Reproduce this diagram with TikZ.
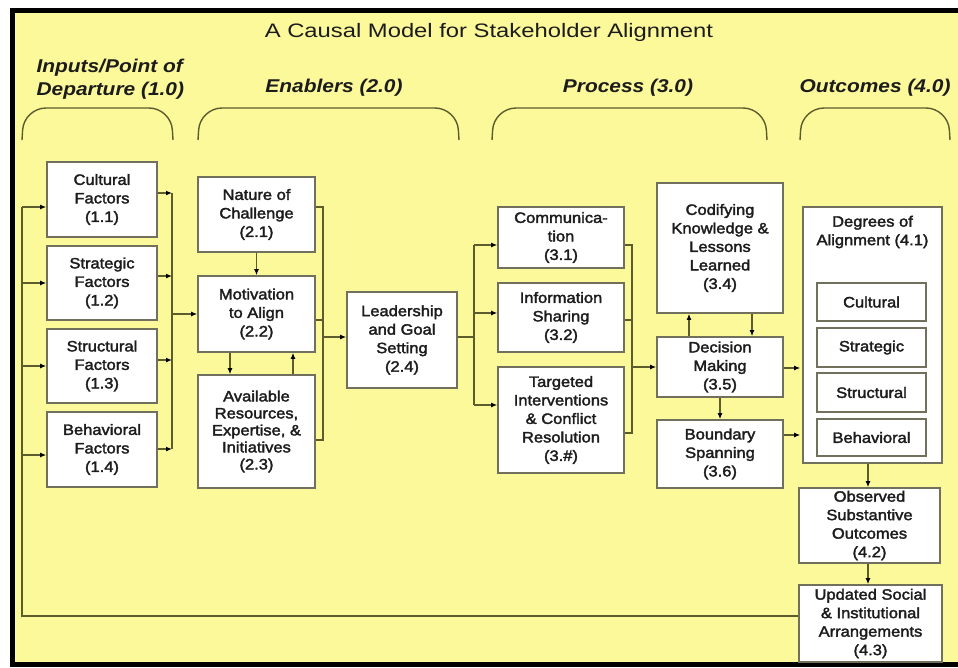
\documentclass[tikz,border=0pt]{standalone}
\usepackage{fontspec}
\setmainfont{Liberation Sans}
\newfontfamily\boxfont{Liberation Sans}[FakeBold=2.2, FakeStretch=1.1]
\newfontfamily\titlefont{Liberation Sans}[FakeStretch=1.22]
\newfontfamily\headfont{Liberation Sans}[FakeStretch=1.13]
\usetikzlibrary{arrows.meta,calc}
\definecolor{bgyellow}{RGB}{252,249,155}
\definecolor{boxline}{RGB}{112,112,92}
\definecolor{connc}{RGB}{92,92,45}
\definecolor{txt}{RGB}{28,28,28}
\newcommand\boxtext{\boxfont\fontsize{15}{18.5}\selectfont}
\tikzset{
  box/.style={draw=boxline, line width=1.6pt, fill=white, align=center, font=\boxtext, text=txt, inner sep=0pt},
  conn/.style={draw=connc, line width=1.3pt},
  arr/.style={conn, -{Latex[length=6pt,width=5pt,color=black]}},
  bracepath/.style={draw=connc, line width=1.4pt, rounded corners=22pt},
  header/.style={font=\headfont\fontsize{18.5}{23}\selectfont\bfseries\itshape, text=txt, align=left},
}
\begin{document}
\begin{tikzpicture}[x=1pt,y=-1pt]
\useasboundingbox (0,0) rectangle (958,667);
\clip (0,0) rectangle (958,667);
\fill[white] (0,0) rectangle (958,667);
\draw[line width=5pt, fill=bgyellow] (12,10.5) rectangle (980,664);

% title and headers
\node[font=\titlefont\fontsize{19.5}{22}\selectfont, text=txt] (title) at (489,32) {A Causal Model for Stakeholder Alignment};
\node[header, anchor=west] (h1) at (33,79.5) {Inputs/Point of\\Departure (1.0)};
\node[header] (h2) at (334,88) {Enablers (2.0)};
\node[header] (h3) at (628,88) {Process (3.0)};
\node[header] (h4) at (875,88) {Outcomes (4.0)};

% braces
\draw[bracepath] (22,140) -- (24,108) -- (171,108) -- (173,140);
\draw[bracepath] (198,140) -- (200,108) -- (457,108) -- (459,140);
\draw[bracepath] (492,140) -- (494,108) -- (765,108) -- (767,140);
\draw[bracepath] (800,140) -- (802,108) -- (948,108) -- (950,140);

% column 1
\node[box, minimum width=110pt, minimum height=75pt] (b11) at (102,199.5) {Cultural\\Factors\\(1.1)};
\node[box, minimum width=110pt, minimum height=74pt] (b12) at (102,283) {Strategic\\Factors\\(1.2)};
\node[box, minimum width=110pt, minimum height=74pt] (b13) at (102,366) {Structural\\Factors\\(1.3)};
\node[box, minimum width=110pt, minimum height=75pt] (b14) at (102,449.5) {Behavioral\\Factors\\(1.4)};

% column 2
\node[box, minimum width=117pt, minimum height=75pt] (b21) at (256.5,214.5) {Nature of\\Challenge\\(2.1)};
\node[box, minimum width=117pt, minimum height=76pt] (b22) at (256.5,314) {Motivation\\to Align\\(2.2)};
\node[box, minimum width=117pt, minimum height=113pt, font=\boxfont\fontsize{15}{17}\selectfont] (b23) at (256.5,431.5) {Available\\Resources,\\Expertise, \&\\Initiatives\\(2.3)};
\node[box, minimum width=110pt, minimum height=96pt] (b24) at (402,340) {Leadership\\and Goal\\Setting\\(2.4)};

% column 3
\node[box, minimum width=126pt, minimum height=61pt] (b31) at (561,237.5) {Communica-\\tion\\(3.1)};
\node[box, minimum width=126pt, minimum height=69pt] (b32) at (561,317.5) {Information\\Sharing\\(3.2)};
\node[box, minimum width=126pt, minimum height=106pt] (b33) at (561,420) {Targeted\\Interventions\\\& Conflict\\Resolution\\(3.\#)};
\node[box, minimum width=126pt, minimum height=130pt] (b34) at (720,248) {Codifying\\Knowledge \&\\Lessons\\Learned\\(3.4)};
\node[box, minimum width=126pt, minimum height=60pt] (b35) at (720,367) {Decision\\Making\\(3.5)};
\node[box, minimum width=126pt, minimum height=68pt] (b36) at (720,454) {Boundary\\Spanning\\(3.6)};

% column 4
\node[box, minimum width=139pt, minimum height=256pt] (b41) at (872.5,335) {};
\node[align=center, font=\boxtext, text=txt] (b41t) at (872.5,232) {Degrees of\\Alignment (4.1)};
\node[box, minimum width=109pt, minimum height=38pt] (i1) at (871.5,302) {Cultural};
\node[box, minimum width=109pt, minimum height=39pt] (i2) at (871.5,347.5) {Strategic};
\node[box, minimum width=109pt, minimum height=39pt] (i3) at (871.5,392.5) {Structural};
\node[box, minimum width=109pt, minimum height=37pt] (i4) at (871.5,437.5) {Behavioral};
\node[box, minimum width=141pt, minimum height=75pt] (b42) at (869.5,525.5) {Observed\\Substantive\\Outcomes\\(4.2)};
\node[box, minimum width=143pt, minimum height=77pt] (b43) at (870.5,623.5) {Updated Social\\\& Institutional\\Arrangements\\(4.3)};

% feedback loop into column 1
\coordinate (fb) at (22,616);
\coordinate (l11) at (22,207);
\coordinate (l12) at (22,283);
\coordinate (l13) at (22,366);
\coordinate (l14) at (22,455);
\draw[conn] (b43.west |- fb) -- (fb) -- (l11);
\draw[arr] (l11) -- (b11.west |- l11);
\draw[arr] (l12) -- (b12.west |- l12);
\draw[arr] (l13) -- (b13.west |- l13);
\draw[arr] (l14) -- (b14.west |- l14);

% column 1 -> 2.2
\coordinate (r11) at (172,193);
\coordinate (r12) at (172,276);
\coordinate (r13) at (172,360);
\coordinate (r14) at (172,449);
\coordinate (r10) at (172,314);
\draw[conn] (r11) -- (r14);
\draw[arr] (b11.east |- r11) -- (r11);
\draw[arr] (b12.east |- r12) -- (r12);
\draw[arr] (b13.east |- r13) -- (r13);
\draw[arr] (b14.east |- r14) -- (r14);
\draw[arr] (r10) -- (b22.west |- r10);

% within column 2
\coordinate (x230) at (230,0);
\coordinate (x293) at (293,0);
\draw[arr] (b21.south) -- (b22.north);
\draw[arr] (b22.south -| x230) -- (b23.north -| x230);
\draw[arr] (b23.north -| x293) -- (b22.south -| x293);

% column 2 -> 2.4
\coordinate (s1) at (323,207);
\coordinate (s2) at (323,320);
\coordinate (s3) at (323,440);
\coordinate (s0) at (323,337);
\draw[conn] (b21.east |- s1) -- (s1) -- (s3) -- (b23.east |- s3);
\draw[conn] (b22.east |- s2) -- (s2);
\draw[arr] (s0) -- (b24.west |- s0);

% 2.4 -> column 3
\coordinate (t0) at (474,337);
\coordinate (t1) at (474,245);
\coordinate (t2) at (474,313);
\coordinate (t3) at (474,405);
\draw[conn] (b24.east |- t0) -- (t0);
\draw[conn] (t1) -- (t3);
\draw[arr] (t1) -- (b31.west |- t1);
\draw[arr] (t2) -- (b32.west |- t2);
\draw[arr] (t3) -- (b33.west |- t3);

% column 3 -> 3.5
\coordinate (u1) at (632,245);
\coordinate (u2) at (632,320);
\coordinate (u3) at (632,433);
\coordinate (u0) at (632,367);
\draw[conn] (b31.east |- u1) -- (u1) -- (u3) -- (b33.east |- u3);
\draw[conn] (b32.east |- u2) -- (u2);
\draw[arr] (u0) -- (b35.west |- u0);

% around 3.5
\coordinate (x689) at (689,0);
\coordinate (x752) at (752,0);
\draw[arr] (b35.north -| x689) -- (b34.south -| x689);
\draw[arr] (b34.south -| x752) -- (b35.north -| x752);
\draw[arr] (b35.south) -- (b36.north);
\coordinate (v1) at (0,368);
\coordinate (v2) at (0,435);
\draw[arr] (b35.east |- v1) -- ([xshift=-2pt]b41.west |- v1);
\draw[arr] (b36.east |- v2) -- ([xshift=-2pt]b41.west |- v2);

% outcomes chain
\coordinate (x868) at (868,0);
\draw[arr] (b41.south -| x868) -- (b42.north -| x868);
\draw[arr] (b42.south -| x868) -- (b43.north -| x868);
\end{tikzpicture}
\end{document}
